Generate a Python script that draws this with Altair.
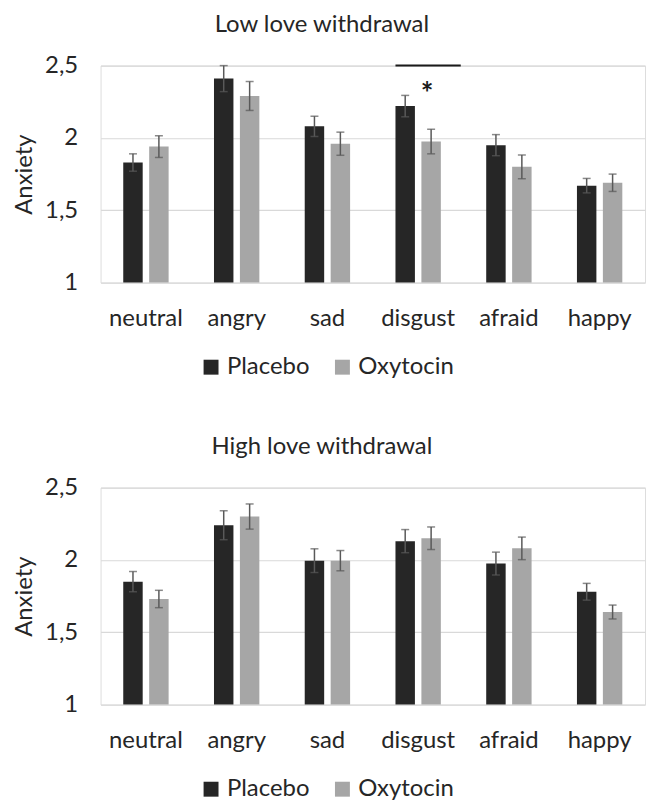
import altair as alt
import pandas as pd

categories = ["neutral", "angry", "sad", "disgust", "afraid", "happy"]
groups = ["Placebo", "Oxytocin"]
colors = ["#262626", "#a6a6a6"]

# Low love withdrawal
low_placebo = [1.83, 2.41, 2.08, 2.22, 1.95, 1.67]
low_placebo_se = [0.06, 0.09, 0.07, 0.074, 0.073, 0.05]
low_oxytocin = [1.94, 2.29, 1.96, 1.975, 1.80, 1.69]
low_oxytocin_se = [0.075, 0.10, 0.08, 0.085, 0.082, 0.06]

# High love withdrawal
high_placebo = [1.85, 2.24, 1.995, 2.13, 1.975, 1.78]
high_placebo_se = [0.07, 0.10, 0.082, 0.08, 0.079, 0.058]
high_oxytocin = [1.73, 2.30, 1.995, 2.15, 2.08, 1.64]
high_oxytocin_se = [0.06, 0.087, 0.07, 0.078, 0.078, 0.048]

titles = ["Low love withdrawal", "High love withdrawal"]
y_ticks = [1, 1.5, 2, 2.5]

FONT = "Lato"
TXT = "#262626"


def long_df(p, pse, o, ose):
    rows = []
    for i, c in enumerate(categories):
        rows.append({"category": c, "group": "Placebo", "mean": p[i], "se": pse[i]})
        rows.append({"category": c, "group": "Oxytocin", "mean": o[i], "se": ose[i]})
    return pd.DataFrame(rows)


def panel(df, title, annotate=False):
    base = alt.Chart(df)
    x = alt.X("category:N", sort=categories, title=None,
              scale=alt.Scale(paddingInner=0.5, paddingOuter=0.25),
              axis=alt.Axis(labelAngle=0, labelFontSize=24, labelFont=FONT, labelColor=TXT,
                            ticks=False, tickSize=0, domain=False, grid=False, labelPadding=24))
    xo = alt.XOffset("group:N", sort=groups,
                     scale=alt.Scale(paddingInner=0.25, paddingOuter=0))
    yscale = alt.Scale(domain=[1, 2.5], zero=False, nice=False)
    yaxis = alt.Axis(values=y_ticks, labelExpr="replace(toString(datum.value), '.', ',')",
                     labelFontSize=24, labelFont=FONT, labelColor=TXT, ticks=False, tickSize=0,
                     domain=False, grid=True, gridColor="#d9d9d9", gridWidth=1.2,
                     labelPadding=23, title="Anxiety", titleFontSize=24, titleFont=FONT,
                     titleFontWeight="normal", titleColor=TXT, titlePadding=8)
    bars = base.mark_bar(clip=True).encode(
        x=x, xOffset=xo,
        y=alt.Y("mean:Q", scale=yscale, axis=yaxis),
        color=alt.Color("group:N", sort=groups,
                        scale=alt.Scale(domain=groups, range=colors),
                        legend=alt.Legend(orient="none", legendX=99, legendY=291,
                                          direction="horizontal", title=None,
                                          symbolType="square", symbolSize=225,
                                          symbolStrokeWidth=0, labelFontSize=24,
                                          labelFont=FONT, labelColor=TXT, labelOffset=4,
                                          columnPadding=21)),
    )
    err = base.transform_calculate(
        lo="datum.mean - datum.se", hi="datum.mean + datum.se"
    )
    err_line = err.mark_rule(color="#595959", strokeWidth=1.5).encode(
        x=alt.X("category:N", sort=categories), xOffset=xo,
        y=alt.Y("lo:Q", scale=yscale), y2="hi:Q")
    cap_lo = err.mark_tick(color="#595959", size=8, thickness=1.5).encode(
        x=alt.X("category:N", sort=categories), xOffset=xo,
        y=alt.Y("lo:Q", scale=yscale))
    cap_hi = err.mark_tick(color="#595959", size=8, thickness=1.5).encode(
        x=alt.X("category:N", sort=categories), xOffset=xo,
        y=alt.Y("hi:Q", scale=yscale))
    layers = [bars, err_line, cap_lo, cap_hi]
    if annotate:
        sig = pd.DataFrame({"category": ["disgust"], "group": ["Oxytocin"],
                            "y": [2.5], "star_y": [2.35], "label": ["*"]})
        line = alt.Chart(sig).mark_rule(color="#1a1a1a", strokeWidth=2, x2Offset=20).encode(
            x=alt.X("category:N", sort=categories, bandPosition=0),
            x2=alt.X2("category", bandPosition=1),
            y=alt.Y("y:Q", scale=yscale))
        star = alt.Chart(sig).mark_text(fontSize=30, fontWeight="bold", font=FONT,
                                        color="#1a1a1a", baseline="middle", dx=-4, dy=8).encode(
            x=alt.X("category:N", sort=categories), xOffset=xo,
            y=alt.Y("star_y:Q", scale=yscale), text="label:N")
        layers += [line, star]
    return alt.layer(*layers).properties(
        width=547, height=218,
        title=alt.TitleParams(title, fontSize=24, font=FONT, fontWeight="normal",
                              color=TXT, anchor="middle", frame="bounds", offset=4,
                              dx=-7, dy=-13),
    )


top = panel(long_df(low_placebo, low_placebo_se, low_oxytocin, low_oxytocin_se), titles[0], True)
bottom = panel(long_df(high_placebo, high_placebo_se, high_oxytocin, high_oxytocin_se), titles[1])

chart = alt.vconcat(top, bottom, spacing=54).resolve_scale(
    color="independent", x="independent", xOffset="independent", y="independent"
).resolve_legend(color="independent").properties(
    padding={"left": 4, "top": 2, "right": 0, "bottom": 0}
).configure_view(stroke=None).configure(
    background="white"
)

chart.save("out.html", embed_options={"renderer": "svg", "actions": False})
